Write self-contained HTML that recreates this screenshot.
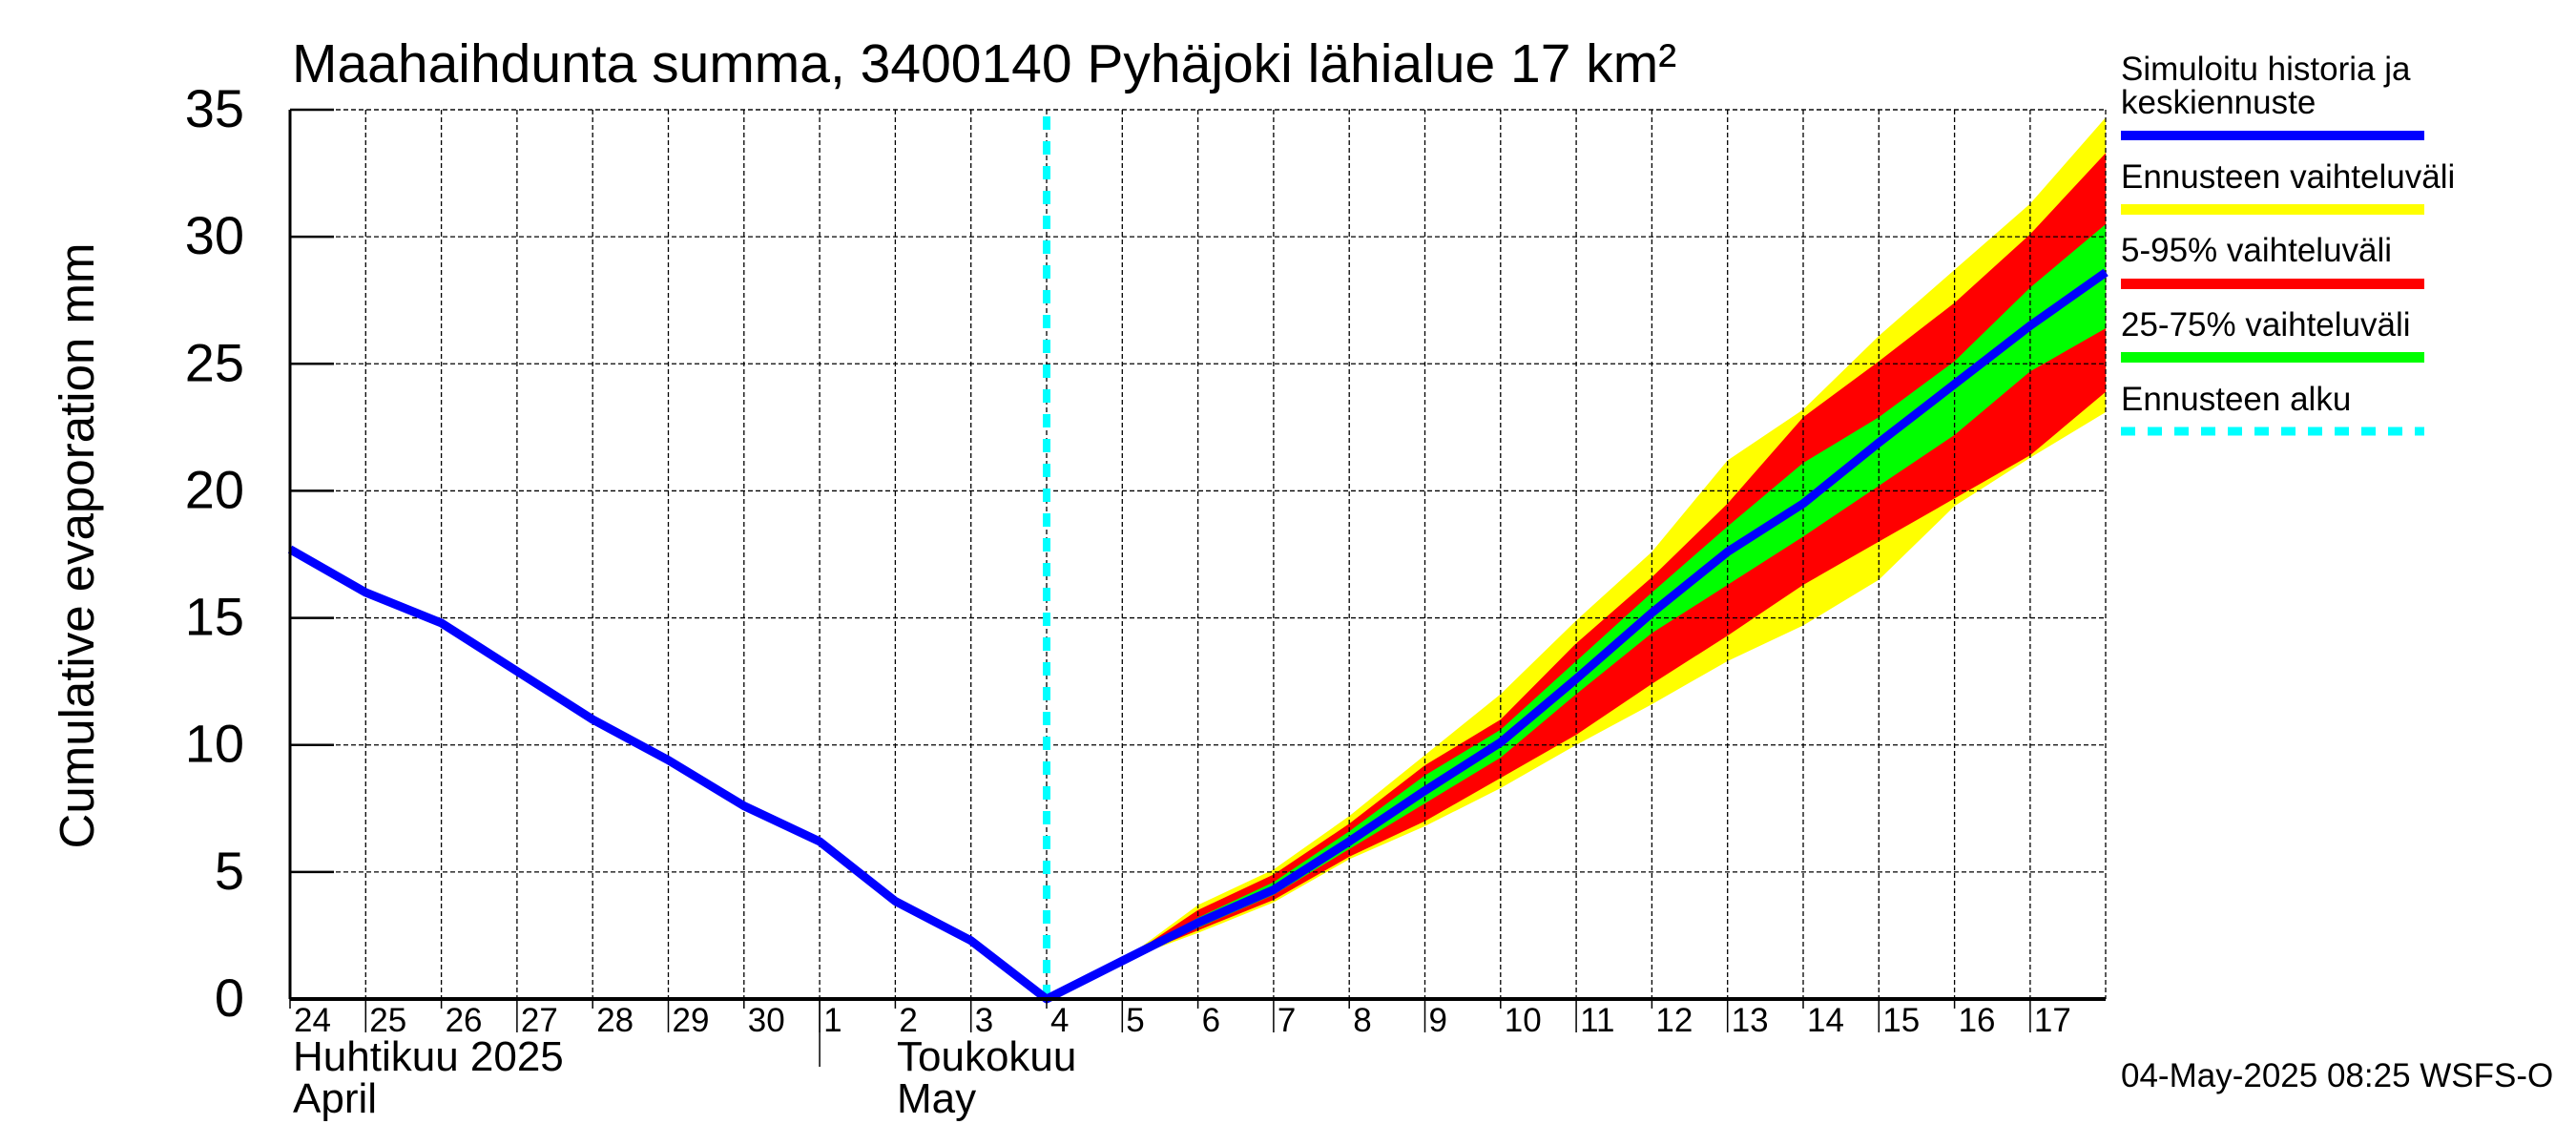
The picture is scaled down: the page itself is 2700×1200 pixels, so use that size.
<!DOCTYPE html>
<html><head><meta charset="utf-8">
<style>
html,body{margin:0;padding:0;background:#fff;}
svg{display:block;font-family:"Liberation Sans",sans-serif;}
</style></head>
<body>
<svg id="chart" width="2700" height="1200" viewBox="0 0 2700 1200" xmlns="http://www.w3.org/2000/svg">
<rect x="0" y="0" width="2700" height="1200" fill="#fff"/>
<g id="bands"></g>
<g id="grid"></g>
<g id="lines"></g>
<g id="axes"></g>
<text x="306" y="86" font-size="57">Maahaihdunta summa, 3400140 Pyhäjoki lähialue 17 km²</text>
<text transform="translate(98,572) rotate(-90)" text-anchor="middle" font-size="51">Cumulative evaporation   mm</text>
<text x="307" y="1122" font-size="44">Huhtikuu  2025</text>
<text x="307" y="1166" font-size="44">April</text>
<text x="940" y="1122" font-size="44">Toukokuu</text>
<text x="940" y="1166" font-size="44">May</text>
<g font-size="35">
<text x="2223" y="84">Simuloitu historia ja</text>
<text x="2223" y="119">keskiennuste</text>
<rect x="2223" y="137" width="318" height="10" fill="#0000ff"/>
<text x="2223" y="197">Ennusteen vaihteluväli</text>
<rect x="2223" y="214" width="318" height="11" fill="#ffff00"/>
<text x="2223" y="274">5-95% vaihteluväli</text>
<rect x="2223" y="292" width="318" height="11" fill="#ff0000"/>
<text x="2223" y="352">25-75% vaihteluväli</text>
<rect x="2223" y="369" width="318" height="11" fill="#00ff00"/>
<text x="2223" y="430">Ennusteen alku</text>
<line x1="2223" y1="452" x2="2541" y2="452" stroke="#00ffff" stroke-width="9" stroke-dasharray="15,13"/>
</g>
<text x="2223" y="1139" font-size="35">04-May-2025 08:25 WSFS-O</text>
</svg>
<script>
const dayLabels = ["24","25","26","27","28","29","30","1","2","3","4","5","6","7","8","9","10","11","12","13","14","15","16","17"];
const yTicks = [0,5,10,15,20,25,30,35];
const histDays = [0,1,2,3,4,5,6,7,8,9,10];
const histValues = [17.7,16.0,14.8,12.9,11.0,9.4,7.6,6.2,3.85,2.3,0];
const fcDays = [10,11,12,13,14,15,16,17,18,19,20,21,22,23,24];
const median = [0,1.5,3.0,4.3,6.2,8.2,10.1,12.6,15.2,17.6,19.5,21.9,24.2,26.5,28.6];
const yellowHi = [0,1.5,3.7,5.1,7.2,9.6,12.0,14.9,17.6,21.2,23.2,26.1,28.7,31.3,34.7];
const yellowLo = [0,1.5,2.6,3.8,5.5,6.8,8.3,10.0,11.6,13.3,14.7,16.5,19.4,21.3,23.1];
const redHi = [0,1.5,3.5,4.9,6.9,9.2,11.0,14.0,16.6,19.5,22.9,25.1,27.4,30.1,33.3];
const redLo = [0,1.5,2.7,3.9,5.6,7.0,8.7,10.4,12.4,14.3,16.3,18.0,19.7,21.4,23.9];
const greenHi = [0,1.5,3.2,4.6,6.6,8.8,10.6,13.3,16.0,18.6,21.1,22.9,25.1,28.0,30.5];
const greenLo = [0,1.5,2.8,4.1,5.9,7.7,9.5,12.0,14.4,16.3,18.2,20.2,22.2,24.7,26.4];
const forecastStartDay = 10;

const X0=304, DX=79.3, Y0=1047, DY=(1047-115)/35, XR=2207;
const xs = d => X0 + d*DX;
const ys = v => Y0 - v*DY;
const NS="http://www.w3.org/2000/svg";
function mk(tag, parent, attrs){const e=document.createElementNS(NS,tag);for(const k in attrs)e.setAttribute(k,attrs[k]);parent.appendChild(e);return e;}
const bands=document.getElementById('bands'), grid=document.getElementById('grid'), lines=document.getElementById('lines'), axes=document.getElementById('axes');

function band(hi, lo, color, name){
  let pts=fcDays.map((d,i)=>xs(d)+','+ys(hi[i]));
  for(let i=fcDays.length-1;i>=0;i--) pts.push(xs(fcDays[i])+','+ys(lo[i]));
  const p=mk('polygon',bands,{points:pts.join(' '),fill:color});
  
  
}
band(yellowHi,yellowLo,'#ffff00','band-full-range');
band(redHi,redLo,'#ff0000','band-5-95');
band(greenHi,greenLo,'#00ff00','band-25-75');

yTicks.forEach(v=>{
  if(v>0){const l=mk('line',grid,{x1:X0,x2:XR,y1:ys(v),y2:ys(v),stroke:'#000','stroke-width':1.3,'stroke-dasharray':'5,3'});
  
  }
  const t=mk('line',axes,{x1:X0,x2:X0+46,y1:ys(v),y2:ys(v),stroke:'#000','stroke-width':2.5});
  
  
  const tx=mk('text',axes,{x:256,y:ys(v)+18,'text-anchor':'end','font-size':56});
  tx.textContent=v;
  
  
});
dayLabels.forEach((lab,i)=>{
  const x=xs(i);
  if(i>0){const l=mk('line',grid,{x1:x,x2:x,y1:115,y2:Y0,stroke:'#000','stroke-width':1.3,'stroke-dasharray':'5,3'});
  
  }
  const long = (i%2===1);
  const tk=mk('line',axes,{x1:x,x2:x,y1:Y0,y2:long?1082:1057,stroke:'#000','stroke-width':1.5});
  
  
  const tx=mk('text',axes,{x:x+4,y:1081,'font-size':35});
  tx.textContent=lab;
  
  
});
const rl=mk('line',grid,{x1:XR,x2:XR,y1:115,y2:Y0,stroke:'#000','stroke-width':1.3,'stroke-dasharray':'5,3'});


const tl=mk('line',grid,{x1:X0,x2:XR,y1:115,y2:115,stroke:'#000','stroke-width':1.3,'stroke-dasharray':'5,3'});



const ax=mk('line',axes,{x1:X0,x2:X0,y1:115,y2:Y0,stroke:'#000','stroke-width':3});


const bx=mk('line',axes,{x1:X0,x2:XR,y1:Y0,y2:Y0,stroke:'#000','stroke-width':4});


const ms=mk('line',axes,{x1:xs(7),x2:xs(7),y1:Y0,y2:1118,stroke:'#000','stroke-width':1.5});



const fs=mk('line',lines,{x1:xs(forecastStartDay),x2:xs(forecastStartDay),y1:122,y2:Y0,stroke:'#00ffff','stroke-width':8,'stroke-dasharray':'14,12'});



const pts=histDays.map((d,i)=>xs(d)+','+ys(histValues[i])).concat(fcDays.slice(1).map((d,i)=>xs(d)+','+ys(median[i+1])));
const ml=mk('polyline',lines,{points:pts.join(' '),fill:'none',stroke:'#0000ff','stroke-width':9,'stroke-linejoin':'round'});


</script>
</body></html>
